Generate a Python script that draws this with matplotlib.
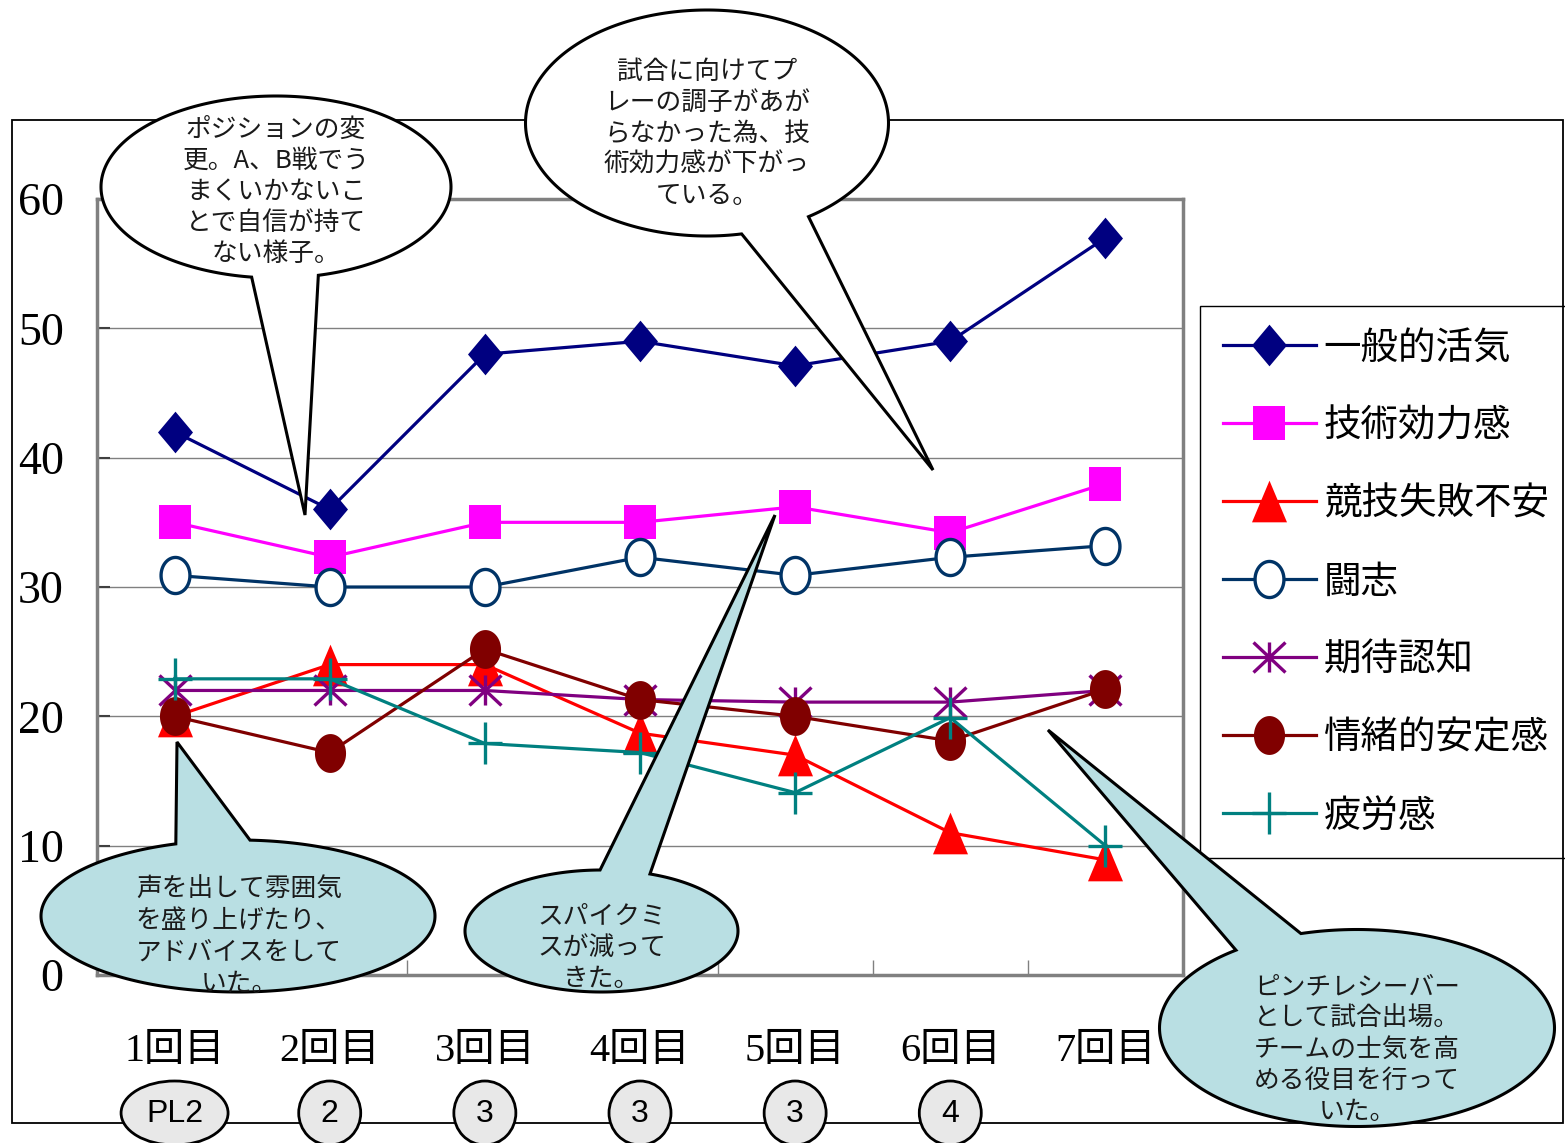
import numpy as np
import matplotlib
matplotlib.use('Agg')
import matplotlib.pyplot as plt
from matplotlib.path import Path
from matplotlib.patches import Polygon, Ellipse, Rectangle

plt.rcParams['font.family'] = ['Noto Sans CJK JP', 'DejaVu Sans']

# ---- data ----
sessions = ['1回目', '2回目', '3回目', '4回目', '5回目', '6回目', '7回目']
general_vigor = [42, 36, 48, 49, 47.1, 49, 57]
skill_efficacy = [35, 32.3, 35, 35, 36.2, 34.2, 38]
failure_anxiety = [20, 24, 24, 18.7, 17, 11, 8.9]
fighting_spirit = [30.9, 30, 30, 32.3, 30.9, 32.3, 33.2]
expectation = [22, 22, 22, 21.3, 21.1, 21.1, 22]
emotional_stability = [20, 17.2, 25.2, 21.3, 20, 18.1, 22.1]
fatigue = [22.9, 22.9, 17.9, 17.2, 14.1, 19.9, 10]
lineup = ['PL2', '2', '3', '3', '3', '4']

labels = ['一般的活気', '技術効力感', '競技失敗不安', '闘志', '期待認知', '情緒的安定感', '疲労感']

# ---- figure / pixel helpers ----
W, H = 1565, 1143
PL, PT, PW, PH = 97, 199, 1086, 776   # plot area in pixels
fig = plt.figure(figsize=(W / 100, H / 100), dpi=100)
ax = fig.add_axes([PL / W, 1 - (PT + PH) / H, PW / W, PH / H])


def cat_px(i):
    return PL + (i + 0.5) * PW / len(sessions)


# marker shapes (slightly taller than wide)
t = np.linspace(0, 2 * np.pi, 60)
oval = Path(np.column_stack([0.4 * np.cos(t), 0.5 * np.sin(t)]), closed=True)
diamond = Path([(0, .5), (.42, 0), (0, -.5), (-.42, 0), (0, .5)], closed=True)
square = Path([(-.47, -.5), (.47, -.5), (.47, .5), (-.47, .5), (-.47, -.5)], closed=True)
triangle = Path([(0, .5), (.42, -.5), (-.42, -.5), (0, .5)], closed=True)
asterisk = Path([(0, -.47), (0, .47), (-.5, -.47), (.5, .47), (-.5, .47), (.5, -.47)],
                [Path.MOVETO, Path.LINETO] * 3)
plus = Path([(0, -.5), (0, .5), (-.4, 0), (.4, 0)], [Path.MOVETO, Path.LINETO] * 2)

series = [
    (general_vigor, '#000080', diamond, 30, '#000080', 0),
    (skill_efficacy, '#FF00FF', square, 25, '#FF00FF', 0),
    (failure_anxiety, '#FF0000', triangle, 30, '#FF0000', 0),
    (fighting_spirit, '#003366', oval, 26, 'white', 2.4),
    (expectation, '#800080', asterisk, 23, 'none', 2.4),
    (emotional_stability, '#800000', oval, 28, '#800000', 0),
    (fatigue, '#008080', plus, 30, 'none', 2.4),
]

x = np.arange(len(sessions))
for vals, col, mk, ms, mfc, mew in series:
    ax.plot(x, vals, color=col, lw=2.3, marker=mk, markersize=ms,
            markerfacecolor=mfc, markeredgecolor=col, markeredgewidth=mew)

ax.set_xlim(-0.5, len(sessions) - 0.5)
ax.set_ylim(0, 60)
ax.set_yticks(range(0, 61, 10))
ax.set_yticklabels([str(v) for v in range(0, 61, 10)], family='Liberation Serif')
ax.grid(axis='y', color='#808080', lw=1)
ax.set_axisbelow(True)
ax.tick_params(axis='y', direction='in', length=9, width=1.5, color='#404040',
               labelsize=33, pad=24)

ax.set_xticks(x)
ax.set_xticklabels(sessions, family=['Liberation Serif', 'Noto Sans CJK JP'])
ax.tick_params(axis='x', which='major', length=0, labelsize=29, pad=42)
ax.set_xticks(x[:-1] + 0.5, minor=True)
ax.tick_params(axis='x', which='minor', direction='in', length=11, width=1, color='#808080')
for s in ax.spines.values():
    s.set_color('#808080')
    s.set_linewidth(2.5)

leg = fig.legend(labels, loc='upper left', bbox_to_anchor=(1200 / W, 1 - 306 / H),
                 frameon=True, fancybox=False, edgecolor='black', framealpha=1,
                 prop={'size': 27}, handlelength=2.5, labelspacing=1.04,
                 borderpad=0.6, handletextpad=0.2, borderaxespad=0)
leg.get_frame().set_linewidth(1)

# ---- overlay in pixel coordinates for frame, callouts and lineup ----
ov = fig.add_axes([0, 0, 1, 1], zorder=10)
ov.set_xlim(0, W)
ov.set_ylim(H, 0)
ov.axis('off')
ov.patch.set_alpha(0)

ov.add_patch(Rectangle((12, 120), 1551, 1003, fill=False, ec='black', lw=1.3, zorder=1))


def bubble(cx, cy, w, h, t1, t2, tip, fc, text, tx=None, ty=None):
    a, b = w / 2, h / 2
    ts = np.radians(np.linspace(t2, t1 + 360, 240))
    pts = np.column_stack([cx + a * np.cos(ts), cy + b * np.sin(ts)])
    pts = np.vstack([pts, tip])
    ov.add_patch(Polygon(pts, closed=True, fc=fc, ec='black', lw=2.2, zorder=5))
    ov.text(cx if tx is None else tx, ty, text, ha='center', va='center',
            fontsize=18.5, linespacing=1.26, color='#1a1a1a', zorder=6,
            multialignment='center')


bubble(276, 187, 350, 182, 76, 98, (305, 515), 'white',
       'ポジションの変\n更。A、B戦でう\nまくいかないこ\nとで自信が持て\nない様子。', ty=192)
bubble(707, 123, 363, 226, 56, 79, (933, 470), 'white',
       '試合に向けてプ\nレーの調子があが\nらなかった為、技\n術効力感が下がっ\nている。', ty=134)
bubble(238, 916, 394, 152, 251.6, 273.5, (177, 742), '#B9DFE3',
       '声を出して雰囲気\nを盛り上げたり、\nアドバイスをして\nいた。', tx=239, ty=937)
bubble(601.5, 931, 273, 122, 269.4, 290.8, (775, 515), '#B9DFE3',
       'スパイクミ\nスが減って\nきた。', ty=948)
bubble(1357, 1028, 395, 197, 232.2, 253.5, (1048, 730), '#B9DFE3',
       'ピンチレシーバー\nとして試合出場。\nチームの士気を高\nめる役目を行って\nいた。', ty=1050)

# lineup markers under each session
for i, lab in enumerate(lineup):
    cx = cat_px(i)
    w = 107 if len(lab) > 1 else 62
    ov.add_patch(Ellipse((cx, 1113), w, 64, fc='#E8E8E8', ec='black', lw=2, zorder=7))
    ov.text(cx, 1114, lab, ha='center', va='center', fontsize=23,
            family='Liberation Sans', zorder=8)

fig.savefig('out.png', dpi=100)
